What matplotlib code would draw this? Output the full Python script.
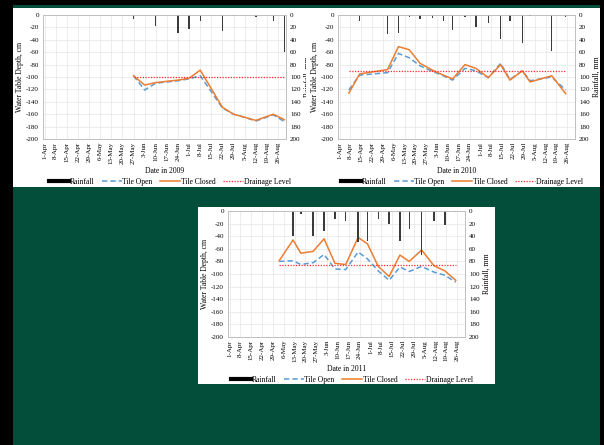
import matplotlib
matplotlib.use("Agg")
import matplotlib.pyplot as plt
from matplotlib.patches import Rectangle
from matplotlib.lines import Line2D
import pandas as pd

plt.rcParams['font.family'] = ['Liberation Serif', 'DejaVu Serif']
plt.rcParams['axes.unicode_minus'] = False

# ---- data ----
wt_dates_09 = ['05-27', '06-03', '06-10', '06-24', '07-01', '07-08', '07-22',
               '07-29', '08-05', '08-12', '08-23', '08-30']
closed_09 = [-98, -113, -109, -105, -102, -89, -149, -160, -165, -170, -160, -169]
open_09 = [-98, -121, -110, -106, -103, -98, -150, -160, -165, -171, -161, -172]
rain_dates_09 = ['05-27', '06-10', '06-24', '07-01', '07-08', '07-22', '07-29',
                 '08-12', '08-23', '08-30']
rain_09 = [7, 18, 29, 23, 10, 25, 1, 4, 10, 59]
drain_09 = -100

wt_dates_10 = ['04-07', '04-14', '05-02', '05-09', '05-16', '05-23', '05-31', '06-07',
               '06-13', '06-21', '06-28', '07-06', '07-14', '07-20', '07-28', '08-02',
               '08-16', '08-25']
closed_10 = [-126, -95, -88, -51, -56, -78, -89, -97, -103, -80, -86, -101, -80,
             -105, -90, -108, -98, -127]
open_10 = [-121, -97, -93, -62, -69, -82, -91, -98, -105, -86, -90, -101, -78,
           -104, -90, -106, -100, -121]
rain_dates_10 = ['04-14', '05-02', '05-09', '05-16', '05-23', '05-31', '06-07', '06-13',
                 '06-21', '06-28', '07-06', '07-14', '07-20', '07-28', '08-02', '08-16',
                 '08-25']
rain_10 = [10, 30, 29, 3, 6, 5, 10, 24, 4, 19, 13, 38, 9, 45, 1, 58, 4]
drain_10 = -90

wt_dates_11 = ['05-03', '05-12', '05-17', '05-25', '06-01', '06-08', '06-15', '06-23',
               '06-29', '07-06', '07-13', '07-20', '07-26', '08-03', '08-11', '08-18',
               '08-25']
closed_11 = [-79, -46, -67, -64, -44, -83, -85, -42, -52, -88, -104, -70, -80, -62,
             -87, -95, -110]
open_11 = [-80, -79, -85, -82, -69, -92, -93, -65, -76, -95, -110, -89, -96, -88,
           -97, -102, -113]
rain_dates_11 = wt_dates_11
rain_11 = [0.5, 39, 5, 39, 32, 12, 16, 49, 48, 12, 20, 47, 28, 70, 16, 23, 2]
drain_11 = -85

BLUE = '#5b9bd5'
ORANGE = '#ed7d31'
RED = '#ff2a2a'
BAR = '#3c3c3c'
GREEN = '#024e3b'

W, H = 604, 445
fig = plt.figure(figsize=(W / 100, H / 100), dpi=100, facecolor='black')


def px_rect(x0, y0, x1, y1, color, z):
    r = Rectangle((x0 / W, 1 - y1 / H), (x1 - x0) / W, (y1 - y0) / H,
                  transform=fig.transFigure, facecolor=color, edgecolor='none', zorder=z)
    fig.add_artist(r)


def to_dt(year, md):
    return pd.to_datetime([f"{year}-{s}" for s in md])


def panel(box, year, wt_dates, closed, opened, drain, rain_dates, rain, leg_xy, z):
    x0, y0, x1, y1 = box
    ax = fig.add_axes([x0 / W, 1 - y1 / H, (x1 - x0) / W, (y1 - y0) / H])
    ax.patch.set_visible(False)
    tw = ax.twinx()
    ax.set_zorder(z)
    tw.set_zorder(z)

    d = to_dt(year, wt_dates)
    rd = to_dt(year, rain_dates)
    ax.plot(d, opened, color=BLUE, lw=1.1, ls=(0, (3.5, 2)))
    ax.plot(d, closed, color=ORANGE, lw=1.1)
    ax.plot([d[0], d[-1]], [drain, drain], color=RED, lw=0.9, ls=(0, (1, 1.2)))
    tw.bar(rd, rain, width=0.9, color=BAR)

    ax.set_ylim(-200, 0)
    ax.set_yticks(range(-200, 1, 20))
    tw.set_ylim(200, 0)
    tw.set_yticks(range(0, 201, 20))
    ax.set_xlim(pd.Timestamp(f'{year}-03-31'), pd.Timestamp(f'{year}-08-31'))
    ticks = pd.date_range(f'{year}-04-01', periods=22, freq='7D')
    ax.set_xticks(ticks)
    ax.set_xticklabels([f"{t.day}-{t:%b}" for t in ticks], rotation=90)
    ax.grid(True, color='#e6e6e6', lw=0.5)
    ax.set_axisbelow(True)
    for a in (ax, tw):
        for s in a.spines.values():
            s.set_color('#c0c0c0')
            s.set_linewidth(0.6)
        a.tick_params(length=0, labelsize=5, pad=3)
    ax.tick_params(axis='x', pad=2)
    ax.set_ylabel('Water Table Depth, cm', fontsize=5.5, labelpad=1)
    tw.set_ylabel('Rainfall, mm', fontsize=5.5, labelpad=2)
    ax.set_xlabel(f'Date in {year}', fontsize=5.5, labelpad=2)

    handles = [Line2D([], [], color='black', lw=3),
               Line2D([], [], color=BLUE, lw=1.1, ls=(0, (3.5, 2))),
               Line2D([], [], color=ORANGE, lw=1.1),
               Line2D([], [], color=RED, lw=0.9, ls=(0, (1, 1.2)))]
    tw.legend(handles, ['Rainfall', 'Tile Open', 'Tile Closed', 'Drainage Level'],
              loc='center', bbox_to_anchor=(leg_xy[0] / W, 1 - leg_xy[1] / H),
              bbox_transform=fig.transFigure, ncol=4, frameon=False, fontsize=5.5,
              handlelength=2.6, handletextpad=0.1, columnspacing=1.0, borderaxespad=0)


# background and white panels
px_rect(0, 0, W, H, GREEN, -5)
px_rect(13, 8, 306, 187, 'white', -4)
px_rect(306, 8, 600, 187, 'white', 2)
px_rect(198, 207, 495, 384, 'white', -4)

panel((43, 15, 286, 139), 2009, wt_dates_09, closed_09, open_09, drain_09,
      rain_dates_09, rain_09, (170, 182), 1)
panel((338, 15, 575, 139), 2010, wt_dates_10, closed_10, open_10, drain_10,
      rain_dates_10, rain_10, (462, 182), 3)
panel((228, 211, 465, 337), 2011, wt_dates_11, closed_11, open_11, drain_11,
      rain_dates_11, rain_11, (352, 380), 1)

# black edges of the screenshot
px_rect(0, 0, 13, H, 'black', 10)
px_rect(0, 0, W, 5, 'black', 10)
px_rect(600, 0, W, H, 'black', 10)

fig.savefig('out.png', dpi=100, facecolor=fig.get_facecolor())
